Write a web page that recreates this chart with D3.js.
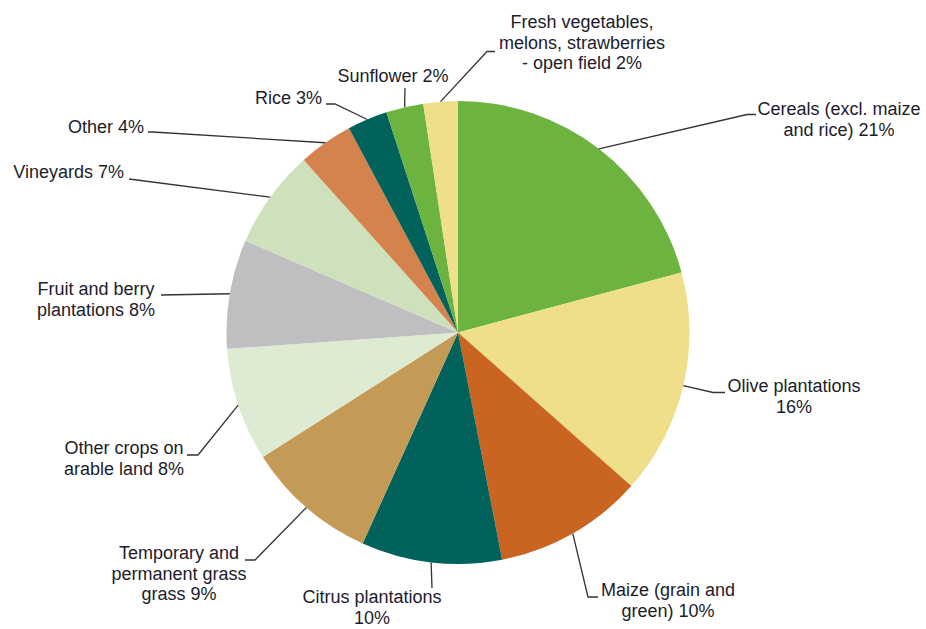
<!DOCTYPE html>
<html>
<head>
<meta charset="utf-8">
<script src="https://cdn.jsdelivr.net/npm/d3@7"></script>
<style>
  html, body { margin: 0; padding: 0; background: #ffffff; }
  svg { display: block; }
  text { font-family: "Liberation Sans", Arial, sans-serif; font-size: 18px; fill: #1c1c2c; }
</style>
</head>
<body>
<svg id="chart" width="926" height="629"></svg>
<script>
// ---- data ----
const categories = [
  "Cereals (excl. maize and rice)",
  "Olive plantations",
  "Maize (grain and green)",
  "Citrus plantations",
  "Temporary and permanent grass grass",
  "Other crops on arable land",
  "Fruit and berry plantations",
  "Vineyards",
  "Other",
  "Rice",
  "Sunflower",
  "Fresh vegetables, melons, strawberries - open field"
];
const values = [20.8, 15.7, 10.4, 9.8, 9.2, 7.9, 7.6, 6.9, 3.8, 2.8, 2.6, 2.4];
const labelLines = [
  ["Cereals (excl. maize", "and rice) 21%"],
  ["Olive plantations", "16%"],
  ["Maize (grain and", "green) 10%"],
  ["Citrus plantations", "10%"],
  ["Temporary and", "permanent grass", "grass 9%"],
  ["Other crops on", "arable land 8%"],
  ["Fruit and berry", "plantations 8%"],
  ["Vineyards 7%"],
  ["Other 4%"],
  ["Rice 3%"],
  ["Sunflower 2%"],
  ["Fresh vegetables,", "melons, strawberries", "- open field 2%"]
];
const colors = [
  "#6cb33f", "#f0df8a", "#c96421", "#00625a", "#c49a57", "#deebd3",
  "#bfbfc2", "#cee0bc", "#d5834c", "#00625a", "#6cb33f", "#f0df8a"
];

// ---- layout (label placement, not data) ----
const cx = 458, cy = 332.5, R = 231.5;
const labelLayout = [
  { tx: 839, ty: 115, anchor: "middle", elbow: [747, 114.5], end: [756, 114.5] },
  { tx: 794, ty: 392, anchor: "middle", elbow: [713, 392.5], end: [725, 392.5] },
  { tx: 668, ty: 596, anchor: "middle", elbow: [588, 597], end: [598, 597] },
  { tx: 372, ty: 603, anchor: "middle", elbow: [432, 588], end: [432, 588] },
  { tx: 179, ty: 559, anchor: "middle", elbow: [255, 560], end: [245, 560] },
  { tx: 124, ty: 454, anchor: "middle", elbow: [198, 455], end: [187, 455] },
  { tx: 96,  ty: 295, anchor: "middle", elbow: [161, 295], end: [161, 295] },
  { tx: 124, ty: 178, anchor: "end",    elbow: [129, 179], end: [129, 179] },
  { tx: 144, ty: 133, anchor: "end",    elbow: [153, 132], end: [148, 132] },
  { tx: 322, ty: 104, anchor: "end",    elbow: [335, 104], end: [326, 104] },
  { tx: 393, ty: 82,  anchor: "middle", elbow: [405, 88],  end: [405, 88] },
  { tx: 582, ty: 28,  anchor: "middle", elbow: [487, 51.5], end: [495, 51.5] }
];
const lineHeight = 20.5;

const svg = d3.select("#chart");
const rows = categories.map((c, i) => ({ name: c, value: values[i], color: colors[i], lines: labelLines[i], layout: labelLayout[i] }));

const pie = d3.pie().sort(null).value(d => d.value).startAngle(0).endAngle(2 * Math.PI);
const arcs = pie(rows);
const arc = d3.arc().innerRadius(0).outerRadius(R);

const g = svg.append("g").attr("transform", `translate(${cx},${cy})`);
g.selectAll("path.slice")
  .data(arcs)
  .join("path")
  .attr("class", "slice")
  .attr("d", arc)
  .attr("fill", d => d.data.color)
  .attr("stroke", "none");

// leader lines
const edgePoint = a => {
  const m = (a.startAngle + a.endAngle) / 2;
  return [cx + R * Math.sin(m), cy - R * Math.cos(m)];
};
svg.selectAll("polyline.leader")
  .data(arcs)
  .join("polyline")
  .attr("class", "leader")
  .attr("fill", "none")
  .attr("stroke", "#333333")
  .attr("stroke-width", 1.3)
  .attr("points", d => {
    const s = edgePoint(d);
    const L = d.data.layout;
    return [s, L.elbow, L.end].map(p => p.join(",")).join(" ");
  });

// labels
const labels = svg.selectAll("text.label")
  .data(arcs)
  .join("text")
  .attr("class", "label")
  .attr("text-anchor", d => d.data.layout.anchor)
  .attr("x", d => d.data.layout.tx)
  .attr("y", d => d.data.layout.ty);
labels.each(function(d) {
  const t = d3.select(this);
  d.data.lines.forEach((ln, k) => {
    t.append("tspan")
      .attr("x", d.data.layout.tx)
      .attr("y", d.data.layout.ty + k * lineHeight)
      .text(ln);
  });
});
</script>
</body>
</html>
